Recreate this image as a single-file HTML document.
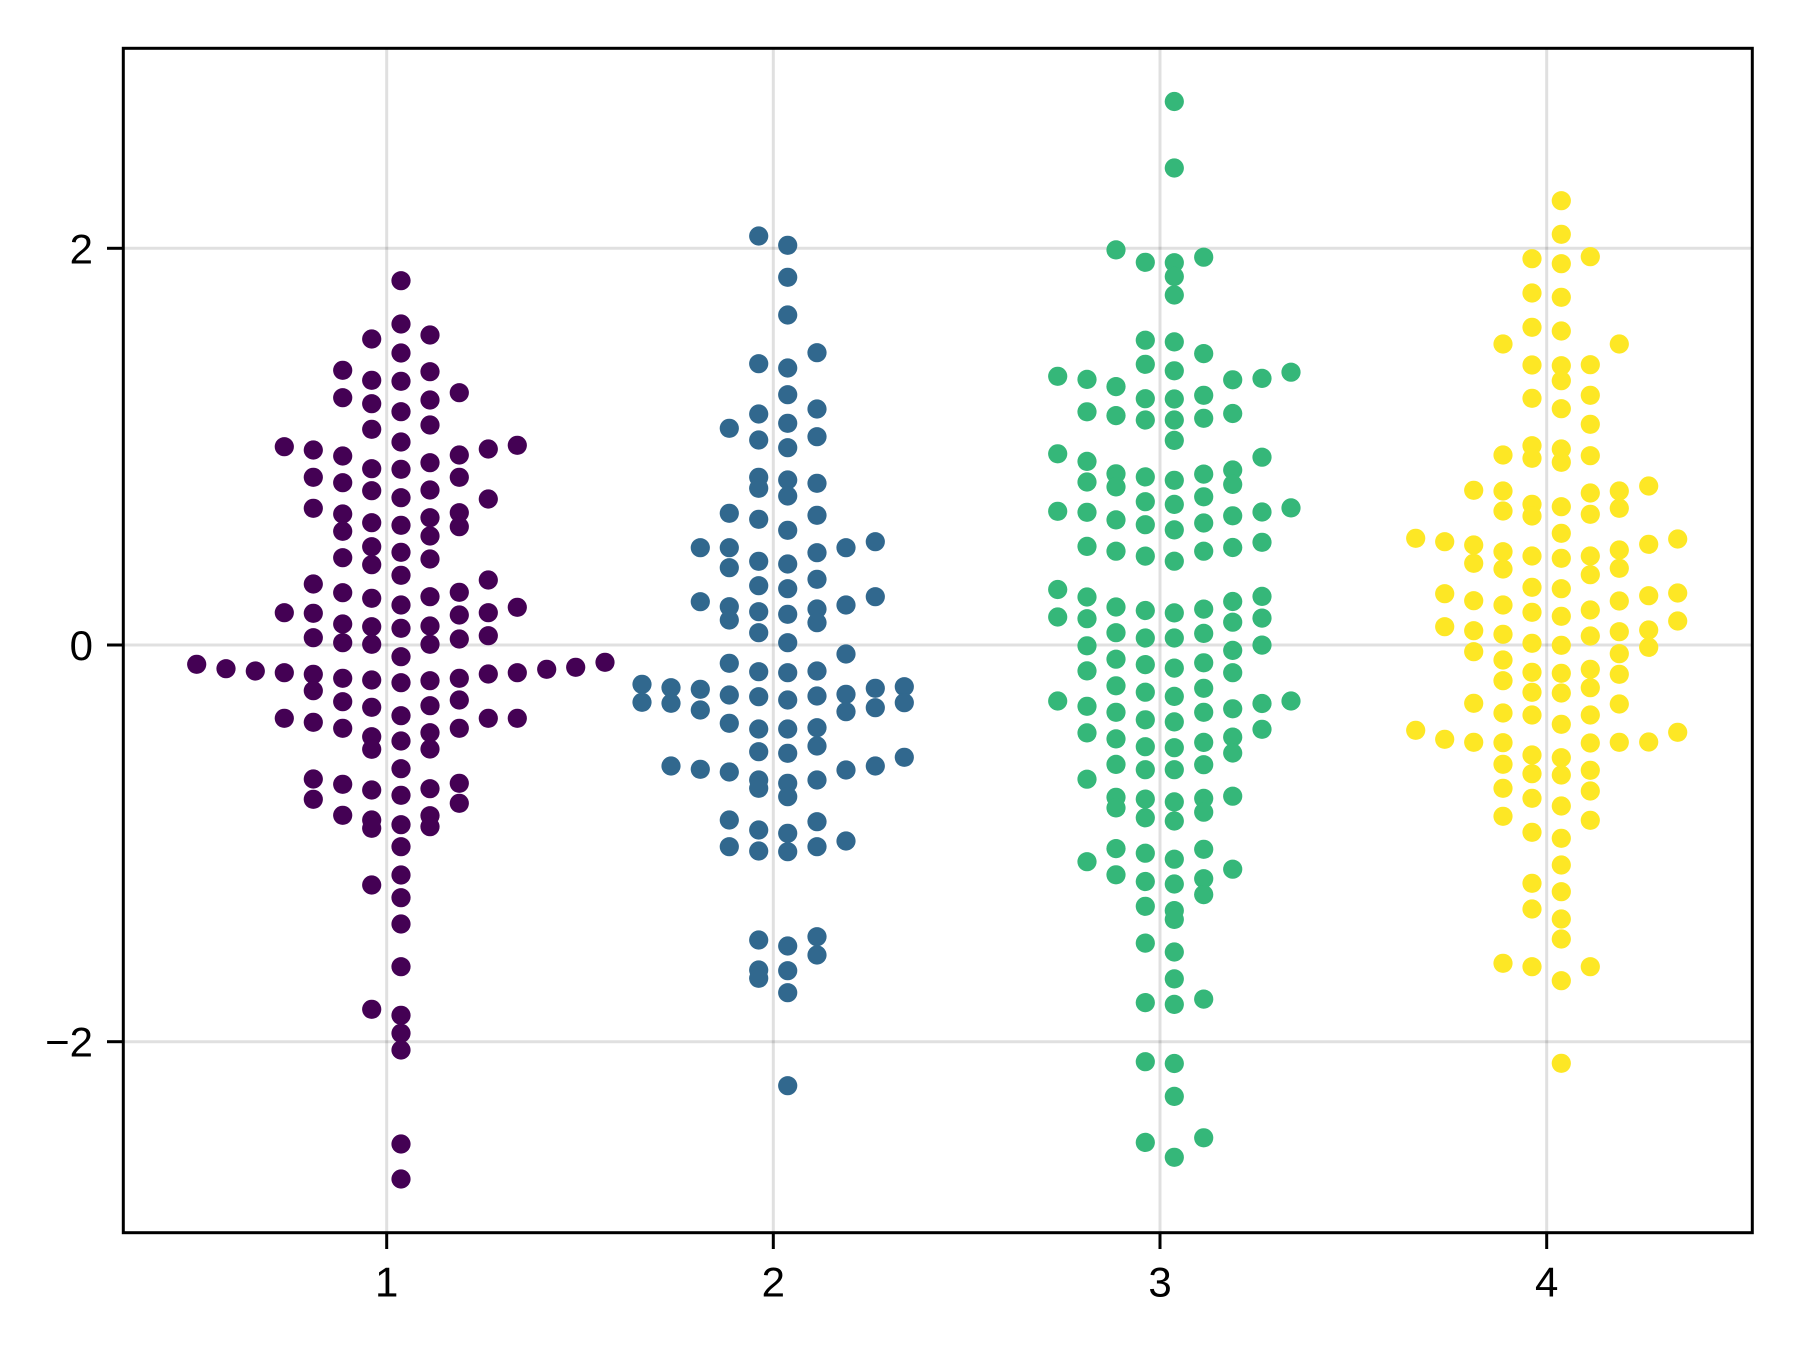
<!DOCTYPE html>
<html><head><meta charset="utf-8"><style>
html,body{margin:0;padding:0;background:#fff;}
svg{display:block;}
text{font-family:"Liberation Sans","DejaVu Sans",sans-serif;font-size:42px;fill:#000;}
</style></head><body>
<svg width="1800" height="1350" viewBox="0 0 1800 1350" xmlns="http://www.w3.org/2000/svg">
<rect width="1800" height="1350" fill="#fff"/>
<g stroke="#000" stroke-opacity="0.12" stroke-width="3">
<line x1="386.7" y1="48.3" x2="386.7" y2="1232.7"/>
<line x1="773.3" y1="48.3" x2="773.3" y2="1232.7"/>
<line x1="1160" y1="48.3" x2="1160" y2="1232.7"/>
<line x1="1546.7" y1="48.3" x2="1546.7" y2="1232.7"/>
<line x1="123.3" y1="248.3" x2="1752.3" y2="248.3"/>
<line x1="123.3" y1="645" x2="1752.3" y2="645"/>
<line x1="123.3" y1="1041.7" x2="1752.3" y2="1041.7"/>
</g>
<g fill="#440154">
<circle cx="284.3" cy="446.7" r="9.6"/><circle cx="284.3" cy="612.7" r="9.6"/><circle cx="284.3" cy="672.7" r="9.6"/><circle cx="284.3" cy="718.3" r="9.6"/>
<circle cx="313.3" cy="450" r="9.6"/><circle cx="313.3" cy="477.3" r="9.6"/><circle cx="313.3" cy="508.3" r="9.6"/><circle cx="313.3" cy="584" r="9.6"/><circle cx="313.3" cy="613.3" r="9.6"/><circle cx="313.3" cy="637.7" r="9.6"/><circle cx="313.3" cy="674.3" r="9.6"/><circle cx="313.3" cy="690.7" r="9.6"/><circle cx="313.3" cy="722.3" r="9.6"/><circle cx="313.3" cy="779" r="9.6"/><circle cx="313.3" cy="799.3" r="9.6"/>
<circle cx="342.7" cy="370.3" r="9.6"/><circle cx="342.7" cy="397.7" r="9.6"/><circle cx="342.7" cy="456" r="9.6"/><circle cx="342.7" cy="482.7" r="9.6"/><circle cx="342.7" cy="514" r="9.6"/><circle cx="342.7" cy="531.3" r="9.6"/><circle cx="342.7" cy="557.7" r="9.6"/><circle cx="342.7" cy="592.7" r="9.6"/><circle cx="342.7" cy="624" r="9.6"/><circle cx="342.7" cy="642.7" r="9.6"/><circle cx="342.7" cy="678.3" r="9.6"/><circle cx="342.7" cy="701.7" r="9.6"/><circle cx="342.7" cy="728.3" r="9.6"/><circle cx="342.7" cy="784.3" r="9.6"/><circle cx="342.7" cy="815.3" r="9.6"/>
<circle cx="371.7" cy="339" r="9.6"/><circle cx="371.7" cy="380.3" r="9.6"/><circle cx="371.7" cy="403.7" r="9.6"/><circle cx="371.7" cy="429.3" r="9.6"/><circle cx="371.7" cy="468.7" r="9.6"/><circle cx="371.7" cy="490.7" r="9.6"/><circle cx="371.7" cy="522.7" r="9.6"/><circle cx="371.7" cy="546.7" r="9.6"/><circle cx="371.7" cy="564.7" r="9.6"/><circle cx="371.7" cy="598.3" r="9.6"/><circle cx="371.7" cy="626.7" r="9.6"/><circle cx="371.7" cy="644.3" r="9.6"/><circle cx="371.7" cy="680" r="9.6"/><circle cx="371.7" cy="707.3" r="9.6"/><circle cx="371.7" cy="736.7" r="9.6"/><circle cx="371.7" cy="749.3" r="9.6"/><circle cx="371.7" cy="790" r="9.6"/><circle cx="371.7" cy="820" r="9.6"/><circle cx="371.7" cy="828.3" r="9.6"/><circle cx="371.7" cy="885" r="9.6"/><circle cx="371.7" cy="1009.3" r="9.6"/>
<circle cx="401" cy="280.7" r="9.6"/><circle cx="401" cy="324" r="9.6"/><circle cx="401" cy="353" r="9.6"/><circle cx="401" cy="381.3" r="9.6"/><circle cx="401" cy="411.7" r="9.6"/><circle cx="401" cy="442" r="9.6"/><circle cx="401" cy="469.3" r="9.6"/><circle cx="401" cy="497.7" r="9.6"/><circle cx="401" cy="525.3" r="9.6"/><circle cx="401" cy="552.3" r="9.6"/><circle cx="401" cy="575.3" r="9.6"/><circle cx="401" cy="605" r="9.6"/><circle cx="401" cy="628.3" r="9.6"/><circle cx="401" cy="656.7" r="9.6"/><circle cx="401" cy="682.7" r="9.6"/><circle cx="401" cy="715.7" r="9.6"/><circle cx="401" cy="741" r="9.6"/><circle cx="401" cy="768.7" r="9.6"/><circle cx="401" cy="795.3" r="9.6"/><circle cx="401" cy="824.7" r="9.6"/><circle cx="401" cy="846.7" r="9.6"/><circle cx="401" cy="875" r="9.6"/><circle cx="401" cy="897.7" r="9.6"/><circle cx="401" cy="924" r="9.6"/><circle cx="401" cy="966.7" r="9.6"/><circle cx="401" cy="1015.3" r="9.6"/><circle cx="401" cy="1033.3" r="9.6"/><circle cx="401" cy="1050" r="9.6"/><circle cx="401" cy="1144" r="9.6"/><circle cx="401" cy="1179" r="9.6"/>
<circle cx="430" cy="335" r="9.6"/><circle cx="430" cy="371.7" r="9.6"/><circle cx="430" cy="400" r="9.6"/><circle cx="430" cy="425" r="9.6"/><circle cx="430" cy="462.7" r="9.6"/><circle cx="430" cy="490" r="9.6"/><circle cx="430" cy="517.7" r="9.6"/><circle cx="430" cy="536" r="9.6"/><circle cx="430" cy="559" r="9.6"/><circle cx="430" cy="596.7" r="9.6"/><circle cx="430" cy="626" r="9.6"/><circle cx="430" cy="644.3" r="9.6"/><circle cx="430" cy="680.7" r="9.6"/><circle cx="430" cy="705.7" r="9.6"/><circle cx="430" cy="732.7" r="9.6"/><circle cx="430" cy="749" r="9.6"/><circle cx="430" cy="788.7" r="9.6"/><circle cx="430" cy="815.7" r="9.6"/><circle cx="430" cy="826.7" r="9.6"/>
<circle cx="459.3" cy="392.7" r="9.6"/><circle cx="459.3" cy="455" r="9.6"/><circle cx="459.3" cy="477.3" r="9.6"/><circle cx="459.3" cy="512.7" r="9.6"/><circle cx="459.3" cy="526.7" r="9.6"/><circle cx="459.3" cy="592.3" r="9.6"/><circle cx="459.3" cy="615" r="9.6"/><circle cx="459.3" cy="639" r="9.6"/><circle cx="459.3" cy="678.3" r="9.6"/><circle cx="459.3" cy="700" r="9.6"/><circle cx="459.3" cy="728.3" r="9.6"/><circle cx="459.3" cy="783.3" r="9.6"/><circle cx="459.3" cy="803.3" r="9.6"/>
<circle cx="488.3" cy="449" r="9.6"/><circle cx="488.3" cy="499" r="9.6"/><circle cx="488.3" cy="580" r="9.6"/><circle cx="488.3" cy="612.7" r="9.6"/><circle cx="488.3" cy="635.7" r="9.6"/><circle cx="488.3" cy="674" r="9.6"/><circle cx="488.3" cy="718.3" r="9.6"/>
<circle cx="517.3" cy="445.3" r="9.6"/><circle cx="517.3" cy="607.3" r="9.6"/><circle cx="517.3" cy="672.7" r="9.6"/><circle cx="517.3" cy="718.3" r="9.6"/>
<circle cx="196.7" cy="664.3" r="9.6"/><circle cx="226" cy="668.7" r="9.6"/><circle cx="255.3" cy="671" r="9.6"/><circle cx="546.7" cy="669.3" r="9.6"/><circle cx="575.7" cy="667.3" r="9.6"/><circle cx="605" cy="662.3" r="9.6"/>
</g>
<g fill="#31688e">
<circle cx="642" cy="684.3" r="9.6"/><circle cx="642" cy="702.3" r="9.6"/>
<circle cx="671" cy="687.7" r="9.6"/><circle cx="671" cy="703.3" r="9.6"/><circle cx="671" cy="766" r="9.6"/>
<circle cx="700.3" cy="547.7" r="9.6"/><circle cx="700.3" cy="601.7" r="9.6"/><circle cx="700.3" cy="689.3" r="9.6"/><circle cx="700.3" cy="710" r="9.6"/><circle cx="700.3" cy="769.3" r="9.6"/>
<circle cx="729.3" cy="428.3" r="9.6"/><circle cx="729.3" cy="513.3" r="9.6"/><circle cx="729.3" cy="547.7" r="9.6"/><circle cx="729.3" cy="567.7" r="9.6"/><circle cx="729.3" cy="606.7" r="9.6"/><circle cx="729.3" cy="620" r="9.6"/><circle cx="729.3" cy="663.3" r="9.6"/><circle cx="729.3" cy="695" r="9.6"/><circle cx="729.3" cy="723.3" r="9.6"/><circle cx="729.3" cy="772" r="9.6"/><circle cx="729.3" cy="820" r="9.6"/><circle cx="729.3" cy="846.7" r="9.6"/>
<circle cx="758.7" cy="236" r="9.6"/><circle cx="758.7" cy="363.7" r="9.6"/><circle cx="758.7" cy="414" r="9.6"/><circle cx="758.7" cy="440" r="9.6"/><circle cx="758.7" cy="477.3" r="9.6"/><circle cx="758.7" cy="488.3" r="9.6"/><circle cx="758.7" cy="519.3" r="9.6"/><circle cx="758.7" cy="561.3" r="9.6"/><circle cx="758.7" cy="585.7" r="9.6"/><circle cx="758.7" cy="611.7" r="9.6"/><circle cx="758.7" cy="632.7" r="9.6"/><circle cx="758.7" cy="671.7" r="9.6"/><circle cx="758.7" cy="696.7" r="9.6"/><circle cx="758.7" cy="729" r="9.6"/><circle cx="758.7" cy="751.7" r="9.6"/><circle cx="758.7" cy="780" r="9.6"/><circle cx="758.7" cy="788.3" r="9.6"/><circle cx="758.7" cy="830" r="9.6"/><circle cx="758.7" cy="851" r="9.6"/><circle cx="758.7" cy="940" r="9.6"/><circle cx="758.7" cy="970" r="9.6"/><circle cx="758.7" cy="978.3" r="9.6"/>
<circle cx="787.7" cy="245.3" r="9.6"/><circle cx="787.7" cy="277.3" r="9.6"/><circle cx="787.7" cy="315" r="9.6"/><circle cx="787.7" cy="368" r="9.6"/><circle cx="787.7" cy="394.7" r="9.6"/><circle cx="787.7" cy="423.3" r="9.6"/><circle cx="787.7" cy="447.7" r="9.6"/><circle cx="787.7" cy="480" r="9.6"/><circle cx="787.7" cy="496" r="9.6"/><circle cx="787.7" cy="530.3" r="9.6"/><circle cx="787.7" cy="564" r="9.6"/><circle cx="787.7" cy="588.7" r="9.6"/><circle cx="787.7" cy="614.3" r="9.6"/><circle cx="787.7" cy="642.7" r="9.6"/><circle cx="787.7" cy="672.7" r="9.6"/><circle cx="787.7" cy="700" r="9.6"/><circle cx="787.7" cy="729" r="9.6"/><circle cx="787.7" cy="753.3" r="9.6"/><circle cx="787.7" cy="783.3" r="9.6"/><circle cx="787.7" cy="796.7" r="9.6"/><circle cx="787.7" cy="833.3" r="9.6"/><circle cx="787.7" cy="851.7" r="9.6"/><circle cx="787.7" cy="946" r="9.6"/><circle cx="787.7" cy="970.7" r="9.6"/><circle cx="787.7" cy="992.7" r="9.6"/><circle cx="787.7" cy="1085.7" r="9.6"/>
<circle cx="817" cy="352.7" r="9.6"/><circle cx="817" cy="409" r="9.6"/><circle cx="817" cy="436.7" r="9.6"/><circle cx="817" cy="483.3" r="9.6"/><circle cx="817" cy="515.3" r="9.6"/><circle cx="817" cy="552.7" r="9.6"/><circle cx="817" cy="579.3" r="9.6"/><circle cx="817" cy="609" r="9.6"/><circle cx="817" cy="622.7" r="9.6"/><circle cx="817" cy="671" r="9.6"/><circle cx="817" cy="696" r="9.6"/><circle cx="817" cy="727.7" r="9.6"/><circle cx="817" cy="746" r="9.6"/><circle cx="817" cy="780" r="9.6"/><circle cx="817" cy="821.7" r="9.6"/><circle cx="817" cy="846.7" r="9.6"/><circle cx="817" cy="936.7" r="9.6"/><circle cx="817" cy="955" r="9.6"/>
<circle cx="846" cy="547.7" r="9.6"/><circle cx="846" cy="605" r="9.6"/><circle cx="846" cy="654" r="9.6"/><circle cx="846" cy="694.3" r="9.6"/><circle cx="846" cy="711.7" r="9.6"/><circle cx="846" cy="770" r="9.6"/><circle cx="846" cy="841" r="9.6"/>
<circle cx="875.3" cy="541.7" r="9.6"/><circle cx="875.3" cy="596.7" r="9.6"/><circle cx="875.3" cy="688.3" r="9.6"/><circle cx="875.3" cy="707.7" r="9.6"/><circle cx="875.3" cy="766" r="9.6"/>
<circle cx="904.3" cy="686.7" r="9.6"/><circle cx="904.3" cy="702.7" r="9.6"/><circle cx="904.3" cy="757.3" r="9.6"/>
</g>
<g fill="#35b779">
<circle cx="1057.7" cy="376.3" r="9.6"/><circle cx="1057.7" cy="453.8" r="9.6"/><circle cx="1057.7" cy="511.3" r="9.6"/><circle cx="1057.7" cy="589.5" r="9.6"/><circle cx="1057.7" cy="617" r="9.6"/><circle cx="1057.7" cy="701" r="9.6"/>
<circle cx="1087" cy="379.4" r="9.6"/><circle cx="1087" cy="411.8" r="9.6"/><circle cx="1087" cy="461.4" r="9.6"/><circle cx="1087" cy="482" r="9.6"/><circle cx="1087" cy="512.3" r="9.6"/><circle cx="1087" cy="546.4" r="9.6"/><circle cx="1087" cy="597" r="9.6"/><circle cx="1087" cy="618.7" r="9.6"/><circle cx="1087" cy="645.8" r="9.6"/><circle cx="1087" cy="670.9" r="9.6"/><circle cx="1087" cy="706.3" r="9.6"/><circle cx="1087" cy="732.9" r="9.6"/><circle cx="1087" cy="779.2" r="9.6"/><circle cx="1087" cy="861.7" r="9.6"/>
<circle cx="1116" cy="249.9" r="9.6"/><circle cx="1116" cy="386.6" r="9.6"/><circle cx="1116" cy="415.6" r="9.6"/><circle cx="1116" cy="473.8" r="9.6"/><circle cx="1116" cy="486.9" r="9.6"/><circle cx="1116" cy="519.9" r="9.6"/><circle cx="1116" cy="551.2" r="9.6"/><circle cx="1116" cy="607" r="9.6"/><circle cx="1116" cy="632.7" r="9.6"/><circle cx="1116" cy="659.2" r="9.6"/><circle cx="1116" cy="685.8" r="9.6"/><circle cx="1116" cy="712.3" r="9.6"/><circle cx="1116" cy="738.9" r="9.6"/><circle cx="1116" cy="764.4" r="9.6"/><circle cx="1116" cy="797.3" r="9.6"/><circle cx="1116" cy="807.9" r="9.6"/><circle cx="1116" cy="848.6" r="9.6"/><circle cx="1116" cy="874.8" r="9.6"/>
<circle cx="1145.3" cy="262.3" r="9.6"/><circle cx="1145.3" cy="340.2" r="9.6"/><circle cx="1145.3" cy="364.3" r="9.6"/><circle cx="1145.3" cy="398.7" r="9.6"/><circle cx="1145.3" cy="420" r="9.6"/><circle cx="1145.3" cy="476.9" r="9.6"/><circle cx="1145.3" cy="501.7" r="9.6"/><circle cx="1145.3" cy="524.7" r="9.6"/><circle cx="1145.3" cy="556.1" r="9.6"/><circle cx="1145.3" cy="610.5" r="9.6"/><circle cx="1145.3" cy="638" r="9.6"/><circle cx="1145.3" cy="664.6" r="9.6"/><circle cx="1145.3" cy="692.2" r="9.6"/><circle cx="1145.3" cy="719.8" r="9.6"/><circle cx="1145.3" cy="746.7" r="9.6"/><circle cx="1145.3" cy="769.7" r="9.6"/><circle cx="1145.3" cy="799.1" r="9.6"/><circle cx="1145.3" cy="817.8" r="9.6"/><circle cx="1145.3" cy="853.2" r="9.6"/><circle cx="1145.3" cy="881.5" r="9.6"/><circle cx="1145.3" cy="906.3" r="9.6"/><circle cx="1145.3" cy="943.1" r="9.6"/><circle cx="1145.3" cy="1002.6" r="9.6"/><circle cx="1145.3" cy="1061.7" r="9.6"/><circle cx="1145.3" cy="1142.4" r="9.6"/>
<circle cx="1174.3" cy="101.5" r="9.6"/><circle cx="1174.3" cy="168" r="9.6"/><circle cx="1174.3" cy="262.7" r="9.6"/><circle cx="1174.3" cy="276.5" r="9.6"/><circle cx="1174.3" cy="295" r="9.6"/><circle cx="1174.3" cy="341.9" r="9.6"/><circle cx="1174.3" cy="370.8" r="9.6"/><circle cx="1174.3" cy="399" r="9.6"/><circle cx="1174.3" cy="420" r="9.6"/><circle cx="1174.3" cy="440.4" r="9.6"/><circle cx="1174.3" cy="480.3" r="9.6"/><circle cx="1174.3" cy="504.4" r="9.6"/><circle cx="1174.3" cy="529.9" r="9.6"/><circle cx="1174.3" cy="561.2" r="9.6"/><circle cx="1174.3" cy="612.9" r="9.6"/><circle cx="1174.3" cy="638" r="9.6"/><circle cx="1174.3" cy="668.1" r="9.6"/><circle cx="1174.3" cy="696.4" r="9.6"/><circle cx="1174.3" cy="721.9" r="9.6"/><circle cx="1174.3" cy="747.7" r="9.6"/><circle cx="1174.3" cy="769.7" r="9.6"/><circle cx="1174.3" cy="801.9" r="9.6"/><circle cx="1174.3" cy="821" r="9.6"/><circle cx="1174.3" cy="859.2" r="9.6"/><circle cx="1174.3" cy="884" r="9.6"/><circle cx="1174.3" cy="910.6" r="9.6"/><circle cx="1174.3" cy="919.4" r="9.6"/><circle cx="1174.3" cy="952" r="9.6"/><circle cx="1174.3" cy="978.9" r="9.6"/><circle cx="1174.3" cy="1004.4" r="9.6"/><circle cx="1174.3" cy="1063.5" r="9.6"/><circle cx="1174.3" cy="1096.4" r="9.6"/><circle cx="1174.3" cy="1157.3" r="9.6"/>
<circle cx="1203.7" cy="257.2" r="9.6"/><circle cx="1203.7" cy="353.6" r="9.6"/><circle cx="1203.7" cy="395.3" r="9.6"/><circle cx="1203.7" cy="418.3" r="9.6"/><circle cx="1203.7" cy="474.1" r="9.6"/><circle cx="1203.7" cy="496.8" r="9.6"/><circle cx="1203.7" cy="523" r="9.6"/><circle cx="1203.7" cy="551.2" r="9.6"/><circle cx="1203.7" cy="609.1" r="9.6"/><circle cx="1203.7" cy="633.4" r="9.6"/><circle cx="1203.7" cy="662.8" r="9.6"/><circle cx="1203.7" cy="688.3" r="9.6"/><circle cx="1203.7" cy="712.3" r="9.6"/><circle cx="1203.7" cy="742.4" r="9.6"/><circle cx="1203.7" cy="764.7" r="9.6"/><circle cx="1203.7" cy="798.4" r="9.6"/><circle cx="1203.7" cy="812.2" r="9.6"/><circle cx="1203.7" cy="849.3" r="9.6"/><circle cx="1203.7" cy="878.7" r="9.6"/><circle cx="1203.7" cy="894.6" r="9.6"/><circle cx="1203.7" cy="999.1" r="9.6"/><circle cx="1203.7" cy="1137.8" r="9.6"/>
<circle cx="1232.7" cy="379.8" r="9.6"/><circle cx="1232.7" cy="413.5" r="9.6"/><circle cx="1232.7" cy="470" r="9.6"/><circle cx="1232.7" cy="484.4" r="9.6"/><circle cx="1232.7" cy="515.8" r="9.6"/><circle cx="1232.7" cy="547.5" r="9.6"/><circle cx="1232.7" cy="601.5" r="9.6"/><circle cx="1232.7" cy="622.2" r="9.6"/><circle cx="1232.7" cy="650.4" r="9.6"/><circle cx="1232.7" cy="672.7" r="9.6"/><circle cx="1232.7" cy="708.8" r="9.6"/><circle cx="1232.7" cy="737.1" r="9.6"/><circle cx="1232.7" cy="753" r="9.6"/><circle cx="1232.7" cy="796.2" r="9.6"/><circle cx="1232.7" cy="869.2" r="9.6"/>
<circle cx="1262" cy="378.4" r="9.6"/><circle cx="1262" cy="457.2" r="9.6"/><circle cx="1262" cy="512" r="9.6"/><circle cx="1262" cy="542.3" r="9.6"/><circle cx="1262" cy="596.4" r="9.6"/><circle cx="1262" cy="618.1" r="9.6"/><circle cx="1262" cy="645.1" r="9.6"/><circle cx="1262" cy="703.5" r="9.6"/><circle cx="1262" cy="729.3" r="9.6"/>
<circle cx="1291" cy="372.2" r="9.6"/><circle cx="1291" cy="507.9" r="9.6"/><circle cx="1291" cy="701" r="9.6"/>
</g>
<g fill="#fde725">
<circle cx="1415.7" cy="538.3" r="9.6"/><circle cx="1415.7" cy="730.3" r="9.6"/>
<circle cx="1444.7" cy="541.7" r="9.6"/><circle cx="1444.7" cy="593.7" r="9.6"/><circle cx="1444.7" cy="626.7" r="9.6"/><circle cx="1444.7" cy="739.3" r="9.6"/>
<circle cx="1473.7" cy="490.3" r="9.6"/><circle cx="1473.7" cy="545" r="9.6"/><circle cx="1473.7" cy="563.3" r="9.6"/><circle cx="1473.7" cy="600.7" r="9.6"/><circle cx="1473.7" cy="630.7" r="9.6"/><circle cx="1473.7" cy="651.7" r="9.6"/><circle cx="1473.7" cy="703.3" r="9.6"/><circle cx="1473.7" cy="742.3" r="9.6"/>
<circle cx="1503" cy="344" r="9.6"/><circle cx="1503" cy="455" r="9.6"/><circle cx="1503" cy="491" r="9.6"/><circle cx="1503" cy="511" r="9.6"/><circle cx="1503" cy="551.7" r="9.6"/><circle cx="1503" cy="569" r="9.6"/><circle cx="1503" cy="605" r="9.6"/><circle cx="1503" cy="634.3" r="9.6"/><circle cx="1503" cy="660" r="9.6"/><circle cx="1503" cy="680.7" r="9.6"/><circle cx="1503" cy="713" r="9.6"/><circle cx="1503" cy="742.7" r="9.6"/><circle cx="1503" cy="764.3" r="9.6"/><circle cx="1503" cy="788.3" r="9.6"/><circle cx="1503" cy="816.3" r="9.6"/><circle cx="1503" cy="963.3" r="9.6"/>
<circle cx="1532" cy="258.7" r="9.6"/><circle cx="1532" cy="293" r="9.6"/><circle cx="1532" cy="327.3" r="9.6"/><circle cx="1532" cy="365" r="9.6"/><circle cx="1532" cy="398.3" r="9.6"/><circle cx="1532" cy="445.7" r="9.6"/><circle cx="1532" cy="458.3" r="9.6"/><circle cx="1532" cy="504.3" r="9.6"/><circle cx="1532" cy="516" r="9.6"/><circle cx="1532" cy="556" r="9.6"/><circle cx="1532" cy="587.3" r="9.6"/><circle cx="1532" cy="612.3" r="9.6"/><circle cx="1532" cy="643.3" r="9.6"/><circle cx="1532" cy="672.3" r="9.6"/><circle cx="1532" cy="692.3" r="9.6"/><circle cx="1532" cy="715" r="9.6"/><circle cx="1532" cy="755" r="9.6"/><circle cx="1532" cy="773.7" r="9.6"/><circle cx="1532" cy="798.3" r="9.6"/><circle cx="1532" cy="832.3" r="9.6"/><circle cx="1532" cy="883.3" r="9.6"/><circle cx="1532" cy="909" r="9.6"/><circle cx="1532" cy="966.7" r="9.6"/>
<circle cx="1561.3" cy="200.7" r="9.6"/><circle cx="1561.3" cy="234.3" r="9.6"/><circle cx="1561.3" cy="263.7" r="9.6"/><circle cx="1561.3" cy="297.3" r="9.6"/><circle cx="1561.3" cy="331" r="9.6"/><circle cx="1561.3" cy="365.7" r="9.6"/><circle cx="1561.3" cy="380.7" r="9.6"/><circle cx="1561.3" cy="408.7" r="9.6"/><circle cx="1561.3" cy="449" r="9.6"/><circle cx="1561.3" cy="462.3" r="9.6"/><circle cx="1561.3" cy="506.7" r="9.6"/><circle cx="1561.3" cy="533.3" r="9.6"/><circle cx="1561.3" cy="558.3" r="9.6"/><circle cx="1561.3" cy="588.7" r="9.6"/><circle cx="1561.3" cy="616.3" r="9.6"/><circle cx="1561.3" cy="645.3" r="9.6"/><circle cx="1561.3" cy="673.3" r="9.6"/><circle cx="1561.3" cy="693" r="9.6"/><circle cx="1561.3" cy="724.3" r="9.6"/><circle cx="1561.3" cy="757.7" r="9.6"/><circle cx="1561.3" cy="775" r="9.6"/><circle cx="1561.3" cy="806" r="9.6"/><circle cx="1561.3" cy="838.3" r="9.6"/><circle cx="1561.3" cy="865" r="9.6"/><circle cx="1561.3" cy="891.7" r="9.6"/><circle cx="1561.3" cy="919" r="9.6"/><circle cx="1561.3" cy="939" r="9.6"/><circle cx="1561.3" cy="980.7" r="9.6"/><circle cx="1561.3" cy="1063.3" r="9.6"/>
<circle cx="1590.3" cy="256.7" r="9.6"/><circle cx="1590.3" cy="364.7" r="9.6"/><circle cx="1590.3" cy="395.3" r="9.6"/><circle cx="1590.3" cy="424.3" r="9.6"/><circle cx="1590.3" cy="455.7" r="9.6"/><circle cx="1590.3" cy="493" r="9.6"/><circle cx="1590.3" cy="514.3" r="9.6"/><circle cx="1590.3" cy="556" r="9.6"/><circle cx="1590.3" cy="574.7" r="9.6"/><circle cx="1590.3" cy="610" r="9.6"/><circle cx="1590.3" cy="636" r="9.6"/><circle cx="1590.3" cy="669.3" r="9.6"/><circle cx="1590.3" cy="687.7" r="9.6"/><circle cx="1590.3" cy="715" r="9.6"/><circle cx="1590.3" cy="743" r="9.6"/><circle cx="1590.3" cy="770.3" r="9.6"/><circle cx="1590.3" cy="791" r="9.6"/><circle cx="1590.3" cy="820.3" r="9.6"/><circle cx="1590.3" cy="966.7" r="9.6"/>
<circle cx="1619.3" cy="344" r="9.6"/><circle cx="1619.3" cy="491" r="9.6"/><circle cx="1619.3" cy="508.3" r="9.6"/><circle cx="1619.3" cy="550" r="9.6"/><circle cx="1619.3" cy="568.3" r="9.6"/><circle cx="1619.3" cy="601" r="9.6"/><circle cx="1619.3" cy="631.7" r="9.6"/><circle cx="1619.3" cy="653.7" r="9.6"/><circle cx="1619.3" cy="674.3" r="9.6"/><circle cx="1619.3" cy="704" r="9.6"/><circle cx="1619.3" cy="742.3" r="9.6"/>
<circle cx="1648.7" cy="486" r="9.6"/><circle cx="1648.7" cy="544.3" r="9.6"/><circle cx="1648.7" cy="595.7" r="9.6"/><circle cx="1648.7" cy="630" r="9.6"/><circle cx="1648.7" cy="647.3" r="9.6"/><circle cx="1648.7" cy="742" r="9.6"/>
<circle cx="1677.7" cy="539" r="9.6"/><circle cx="1677.7" cy="593" r="9.6"/><circle cx="1677.7" cy="621" r="9.6"/><circle cx="1677.7" cy="732.3" r="9.6"/>
</g>
<rect x="123.3" y="48.3" width="1629" height="1184.4" fill="none" stroke="#000" stroke-width="3"/>
<g stroke="#000" stroke-width="3">
<line x1="386.7" y1="1234" x2="386.7" y2="1249"/>
<line x1="773.3" y1="1234" x2="773.3" y2="1249"/>
<line x1="1160" y1="1234" x2="1160" y2="1249"/>
<line x1="1546.7" y1="1234" x2="1546.7" y2="1249"/>
<line x1="107" y1="248.3" x2="122" y2="248.3"/>
<line x1="107" y1="645" x2="122" y2="645"/>
<line x1="107" y1="1041.7" x2="122" y2="1041.7"/>
</g>
<g text-anchor="middle">
<text x="386.7" y="1296.7">1</text>
<text x="773.3" y="1296.7">2</text>
<text x="1160" y="1296.7">3</text>
<text x="1546.7" y="1296.7">4</text>
</g>
<g text-anchor="end">
<text x="93" y="263.3">2</text>
<text x="93" y="660">0</text>
<text x="93" y="1056.7">−2</text>
</g>
</svg>
</body></html>
